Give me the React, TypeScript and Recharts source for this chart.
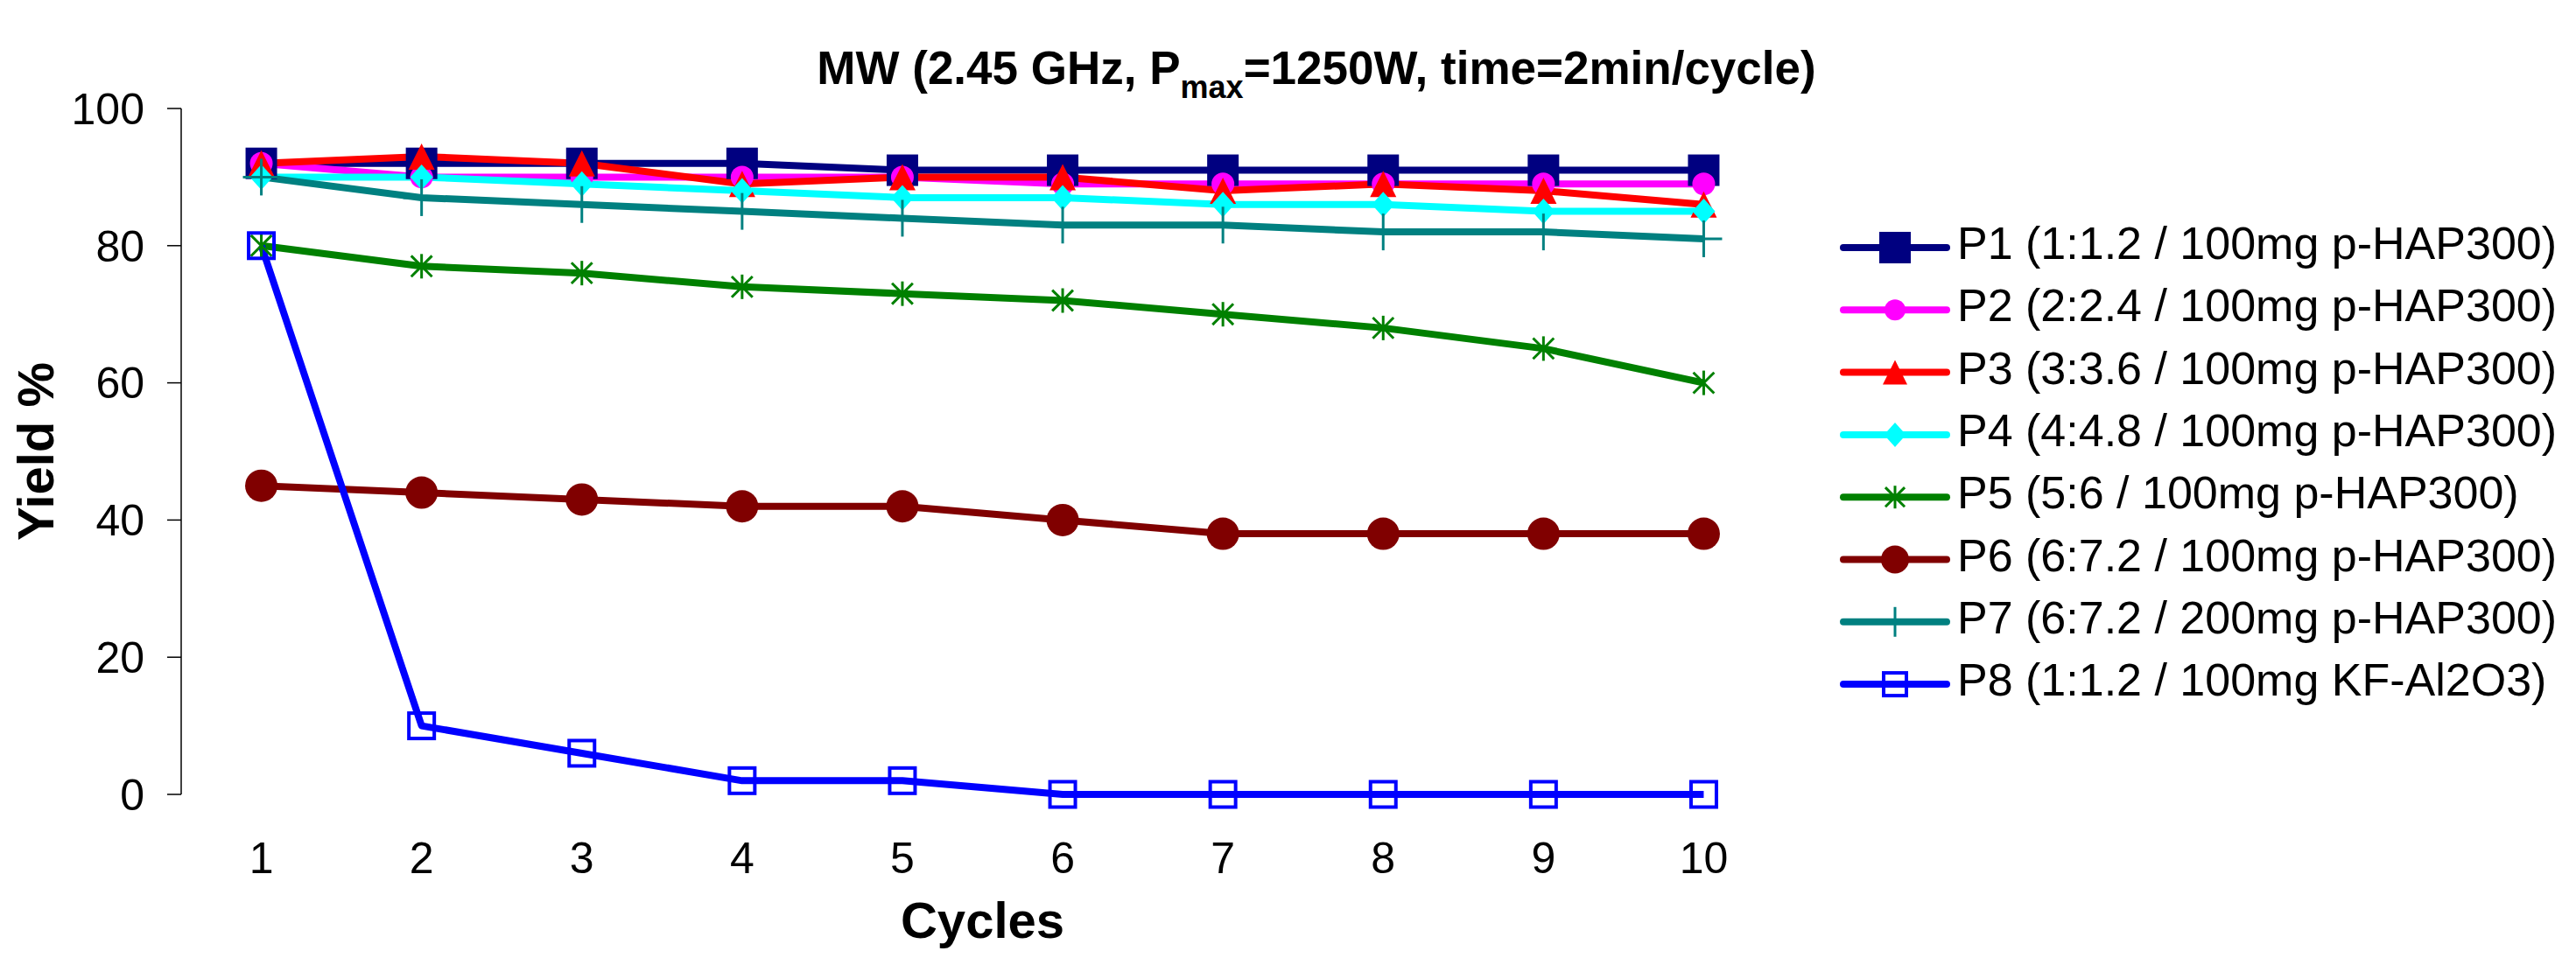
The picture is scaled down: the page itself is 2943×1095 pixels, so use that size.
import React from 'react';
import { LineChart, Line, XAxis, YAxis, Legend } from 'recharts';

const cycles = [1, 2, 3, 4, 5, 6, 7, 8, 9, 10];
const p1 = [92, 92, 92, 92, 91, 91, 91, 91, 91, 91];
const p2 = [92, 90, 90, 90, 90, 89, 89, 89, 89, 89];
const p3 = [92, 93, 92, 89, 90, 90, 88, 89, 88, 86];
const p4 = [90, 90, 89, 88, 87, 87, 86, 86, 85, 85];
const p5 = [80, 77, 76, 74, 73, 72, 70, 68, 65, 60];
const p6 = [45, 44, 43, 42, 42, 40, 38, 38, 38, 38];
const p7 = [90, 87, 86, 85, 84, 83, 83, 82, 82, 81];
const p8 = [80, 10, 6, 2, 2, 0, 0, 0, 0, 0];

const seriesNames = [
  'P1 (1:1.2 / 100mg p-HAP300)',
  'P2 (2:2.4 / 100mg p-HAP300)',
  'P3 (3:3.6 / 100mg p-HAP300)',
  'P4 (4:4.8 / 100mg p-HAP300)',
  'P5 (5:6 / 100mg p-HAP300)',
  'P6 (6:7.2 / 100mg p-HAP300)',
  'P7 (6:7.2 / 200mg p-HAP300)',
  'P8 (1:1.2 / 100mg KF-Al2O3)',
];
const yTicks = [0, 20, 40, 60, 80, 100];
const xBoundaryTicks = [0.5, 1.5, 2.5, 3.5, 4.5, 5.5, 6.5, 7.5, 8.5, 9.5, 10.5];

const FONT = '"Liberation Sans", Arial, Helvetica, sans-serif';

const seriesValues = [p1, p2, p3, p4, p5, p6, p7, p8];
const seriesKeys = ['p1', 'p2', 'p3', 'p4', 'p5', 'p6', 'p7', 'p8'];
const styles = [
  { color: '#000080', kind: 'square', size: 36, lsize: 36 },
  { color: '#FF00FF', kind: 'circle', size: 26, lsize: 24 },
  { color: '#FF0000', kind: 'triangle', size: 30, lsize: 28 },
  { color: '#00FFFF', kind: 'diamond', size: 29, lsize: 28 },
  { color: '#008000', kind: 'star', size: 28, lsize: 26 },
  { color: '#800000', kind: 'circle', size: 37, lsize: 32 },
  { color: '#008080', kind: 'plus', size: 42, lsize: 34 },
  { color: '#0000FF', kind: 'openSquare', size: 29, lsize: 26 },
];

const data = cycles.map((c, i) => {
  const row: any = { cycle: c };
  seriesKeys.forEach((k, j) => {
    row[k] = seriesValues[j][i];
  });
  return row;
});

function Marker({ kind, cx, cy, color, size }: any) {
  const h = size / 2;
  switch (kind) {
    case 'square':
      return <rect x={cx - h} y={cy - h} width={size} height={size} fill={color} />;
    case 'circle':
      return <circle cx={cx} cy={cy} r={h} fill={color} />;
    case 'triangle':
      return (
        <polygon
          points={`${cx},${cy - h} ${cx + h},${cy + h} ${cx - h},${cy + h}`}
          fill={color}
        />
      );
    case 'diamond':
      return (
        <polygon
          points={`${cx},${cy - h} ${cx + h * 0.9},${cy} ${cx},${cy + h} ${cx - h * 0.9},${cy}`}
          fill={color}
        />
      );
    case 'star':
      return (
        <g stroke={color} strokeWidth={3}>
          <line x1={cx} y1={cy - h} x2={cx} y2={cy + h} />
          <line x1={cx - h * 0.85} y1={cy - h * 0.85} x2={cx + h * 0.85} y2={cy + h * 0.85} />
          <line x1={cx + h * 0.85} y1={cy - h * 0.85} x2={cx - h * 0.85} y2={cy + h * 0.85} />
        </g>
      );
    case 'plus':
      return (
        <g stroke={color} strokeWidth={3}>
          <line x1={cx} y1={cy - h} x2={cx} y2={cy + h} />
          <line x1={cx - h} y1={cy} x2={cx + h} y2={cy} />
        </g>
      );
    case 'openSquare':
      return (
        <rect
          x={cx - h}
          y={cy - h}
          width={size}
          height={size}
          fill="none"
          stroke={color}
          strokeWidth={4}
        />
      );
    default:
      return null;
  }
}

const LegendBox = () => (
  <svg width={885} height={571} style={{ display: 'block' }}>
    {seriesNames.map((name, i) => {
      const y = 36 + i * 71.3;
      const s = styles[i];
      return (
        <g key={name}>
          <line
            x1={68}
            x2={186}
            y1={y}
            y2={y}
            stroke={s.color}
            strokeWidth={8}
            strokeLinecap="round"
          />
          <Marker kind={s.kind} cx={127} cy={y} color={s.color} size={s.lsize} />
          <text x={198} y={y + 13} fontSize={52} fontFamily={FONT} fill="#000">
            {name}
          </text>
        </g>
      );
    })}
  </svg>
);

export default function App() {
  return (
    <div style={{ position: 'absolute', left: 0, top: 0, width: 2943, height: 1095, background: '#fff' }}>
      <LineChart
        width={2943}
        height={1095}
        data={data}
        margin={{ top: 124, right: 20, bottom: 0, left: 0 }}
      >
        <XAxis
          xAxisId="marks"
          dataKey="cycle"
          type="number"
          domain={[0.5, 10.5]}
          ticks={xBoundaryTicks}
          tick={false}
          tickSize={16}
          height={0}
          axisLine={{ stroke: '#000', strokeWidth: 1.5 }}
          tickLine={{ stroke: '#000', strokeWidth: 1.5 }}
          allowDataOverflow
        />
        <XAxis
          xAxisId="x"
          dataKey="cycle"
          type="number"
          domain={[0.5, 10.5]}
          ticks={cycles}
          height={187}
          axisLine={false}
          tickLine={false}
          tickSize={0}
          tickMargin={54}
          interval={0}
          tick={{ fontSize: 50, fill: '#000', fontFamily: FONT }}
          label={{
            value: 'Cycles',
            position: 'insideBottom',
            offset: 23,
            style: { fontSize: 58, fontWeight: 'bold', fill: '#000', fontFamily: FONT },
          }}
        />
        <YAxis
          domain={[0, 100]}
          ticks={yTicks}
          width={207}
          tickSize={16}
          tickMargin={26}
          interval={0}
          axisLine={{ stroke: '#000', strokeWidth: 1.5 }}
          tickLine={{ stroke: '#000', strokeWidth: 1.5 }}
          tick={{ fontSize: 50, fill: '#000', fontFamily: FONT }}
          label={{
            value: 'Yield %',
            angle: -90,
            position: 'insideLeft',
            offset: 40,
            style: { fontSize: 58, fontWeight: 'bold', fill: '#000', fontFamily: FONT, textAnchor: 'middle' },
          }}
        />
        <Legend
          layout="vertical"
          align="right"
          verticalAlign="top"
          wrapperStyle={{ top: 247, right: 20, width: 885, height: 571 }}
          content={() => <LegendBox />}
        />
        {seriesKeys.map((k, i) => {
          const s = styles[i];
          return (
            <Line
              key={k}
              xAxisId="x"
              dataKey={k}
              name={seriesNames[i]}
              type="linear"
              stroke={s.color}
              strokeWidth={8}
              strokeLinejoin="round"
              isAnimationActive={false}
              activeDot={false}
              dot={(props: any) => (
                <Marker
                  key={`${k}-${props.index}`}
                  kind={s.kind}
                  cx={props.cx}
                  cy={props.cy}
                  color={s.color}
                  size={s.size}
                />
              )}
            />
          );
        })}
      </LineChart>
      <svg
        width={2943}
        height={130}
        style={{ position: 'absolute', left: 0, top: 0, pointerEvents: 'none' }}
      >
        <text
          x={1504}
          y={96}
          textAnchor="middle"
          fontSize={53}
          fontWeight="bold"
          fontFamily={FONT}
          fill="#000"
        >
          MW (2.45 GHz, P
          <tspan fontSize={36} dy={16}>max</tspan>
          <tspan dy={-16}>=1250W, time=2min/cycle)</tspan>
        </text>
      </svg>
    </div>
  );
}
